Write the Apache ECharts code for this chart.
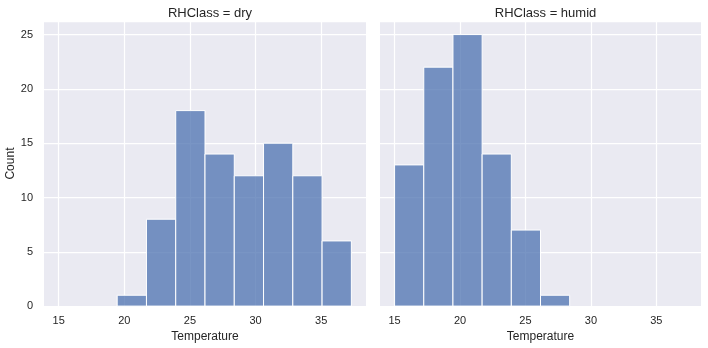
<!DOCTYPE html>
<html>
<head>
<meta charset="utf-8">
<script src="https://cdn.jsdelivr.net/npm/echarts@6/dist/echarts.min.js"></script>
<style>
  html, body { margin: 0; padding: 0; background: #ffffff; }
  #chart { width: 708px; height: 348px; }
</style>
</head>
<body>
<div id="chart"></div>
<script>
// Shared histogram bin edges (°C), same for both panels
const binEdges = [15.0, 17.23, 19.46, 21.69, 23.92, 26.15, 28.38, 30.61, 32.84, 35.07, 37.3];
// Counts per bin for each relative-humidity class
const dryCounts = [0, 0, 1, 8, 18, 14, 12, 15, 12, 6];
const humidCounts = [13, 22, 25, 14, 7, 1, 0, 0, 0, 0];
const panelTitles = ['RHClass = dry', 'RHClass = humid'];
const xTicks = [15, 20, 25, 30, 35];
const yTicks = [0, 5, 10, 15, 20, 25];

const xMin = 13.885, xMax = 38.415, yMax = 26.25;
const textColor = '#262626';
const font = 'Liberation Sans, Arial, sans-serif';

function toBins(counts) {
  return counts.map((c, i) => [binEdges[i], binEdges[i + 1], c]);
}

function histSeries(counts, idx) {
  return {
    type: 'custom',
    xAxisIndex: idx,
    yAxisIndex: idx,
    z: 3,
    data: toBins(counts).filter(d => d[2] > 0),
    renderItem: function (params, api) {
      const p0 = api.coord([api.value(0), 0]);
      const p1 = api.coord([api.value(1), api.value(2)]);
      return {
        type: 'rect',
        shape: { x: p0[0], y: p1[1], width: p1[0] - p0[0], height: p0[1] - p1[1] },
        style: { fill: 'rgba(76,114,176,0.75)', stroke: '#ffffff', lineWidth: 1 }
      };
    }
  };
}

// Vertical grid lines at the labelled temperatures, kept beneath the bars
function gridLineSeries(idx) {
  return {
    type: 'line',
    xAxisIndex: idx,
    yAxisIndex: idx,
    z: 1,
    data: [],
    silent: true,
    markLine: {
      z: 1,
      silent: true,
      symbol: 'none',
      label: { show: false },
      lineStyle: { color: '#ffffff', width: 1.25, type: 'solid' },
      data: xTicks.map(v => ({ xAxis: v }))
    }
  };
}

const grids = [
  { left: 44, top: 21, width: 322, height: 286, show: true, backgroundColor: '#EAEAF2', borderWidth: 0 },
  { left: 380, top: 21, width: 321, height: 286, show: true, backgroundColor: '#EAEAF2', borderWidth: 0 }
];

function xAxis(idx) {
  return {
    type: 'value',
    gridIndex: idx,
    min: xMin,
    max: xMax,
    name: 'Temperature',
    nameLocation: 'middle',
    nameGap: 22,
    nameTextStyle: { color: textColor, fontSize: 12, fontFamily: font },
    axisLine: { show: false },
    axisTick: { show: false },
    splitLine: { show: false },
    axisLabel: {
      customValues: xTicks,
      color: textColor, fontSize: 11, fontFamily: font, margin: 9
    }
  };
}

function yAxis(idx) {
  return {
    type: 'value',
    gridIndex: idx,
    min: 0,
    max: yMax,
    interval: 5,
    name: idx === 0 ? 'Count' : '',
    nameLocation: 'middle',
    nameGap: 26,
    nameTextStyle: { color: textColor, fontSize: 12, fontFamily: font },
    axisLine: { show: false },
    axisTick: { show: false },
    splitLine: { show: true, lineStyle: { color: '#ffffff', width: 1.25 } },
    axisLabel: {
      show: idx === 0,
      color: textColor, fontSize: 11, fontFamily: font, margin: 11,
      formatter: v => (yTicks.indexOf(v) >= 0 ? String(v) : '')
    }
  };
}

const chart = echarts.init(document.getElementById('chart'), null, { renderer: 'canvas' });
chart.setOption({
  animation: false,
  backgroundColor: '#ffffff',
  title: panelTitles.map((t, i) => ({
    text: t,
    left: i === 0 ? 205 : 540.5,
    top: 2,
    textAlign: 'center',
    textStyle: { color: textColor, fontSize: 13, fontWeight: 'normal', fontFamily: font }
  })),
  grid: grids,
  xAxis: [xAxis(0), xAxis(1)],
  yAxis: [yAxis(0), yAxis(1)],
  series: [
    gridLineSeries(0),
    gridLineSeries(1),
    histSeries(dryCounts, 0),
    histSeries(humidCounts, 1)
  ]
});
</script>
</body>
</html>
